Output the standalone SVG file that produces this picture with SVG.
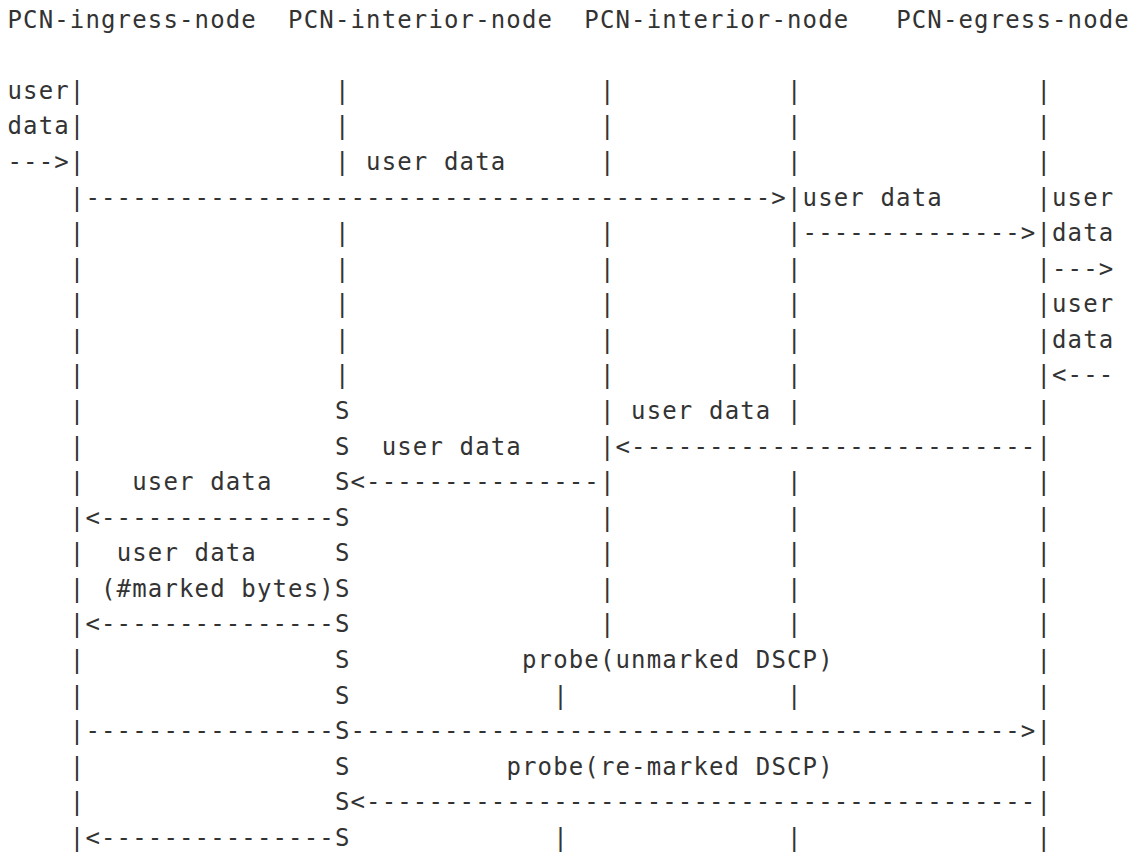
<svg xmlns="http://www.w3.org/2000/svg" width="1136" height="852" viewBox="0 0 1136 852">
<style>
.t{font-family:"DejaVu Sans Mono","Liberation Mono",monospace;font-size:24px;letter-spacing:1.14px;fill:#333;white-space:pre;}
</style>
<rect width="1136" height="852" fill="#fff"/>
<g id="node-ingress">
<text class="t" x="7.5" y="27.6">PCN-ingress-node</text>
<text class="t"><tspan x="69.86" y="98.76">|</tspan><tspan x="69.86" y="134.34">|</tspan><tspan x="69.86" y="169.92">|</tspan><tspan x="69.86" y="205.5">|</tspan><tspan x="69.86" y="241.08">|</tspan><tspan x="69.86" y="276.66">|</tspan><tspan x="69.86" y="312.24">|</tspan><tspan x="69.86" y="347.82">|</tspan><tspan x="69.86" y="383.4">|</tspan><tspan x="69.86" y="418.98">|</tspan><tspan x="69.86" y="454.56">|</tspan><tspan x="69.86" y="490.14">|</tspan><tspan x="69.86" y="525.72">|</tspan><tspan x="69.86" y="561.3">|</tspan><tspan x="69.86" y="596.88">|</tspan><tspan x="69.86" y="632.46">|</tspan><tspan x="69.86" y="668.04">|</tspan><tspan x="69.86" y="703.62">|</tspan><tspan x="69.86" y="739.2">|</tspan><tspan x="69.86" y="774.78">|</tspan><tspan x="69.86" y="810.36">|</tspan><tspan x="69.86" y="845.94">|</tspan></text>
</g>
<g id="node-interior-1">
<text class="t" x="288.12" y="27.6">PCN-interior-node</text>
<text class="t"><tspan x="334.89" y="98.76">|</tspan><tspan x="334.89" y="134.34">|</tspan><tspan x="334.89" y="169.92">|</tspan><tspan x="334.89" y="241.08">|</tspan><tspan x="334.89" y="276.66">|</tspan><tspan x="334.89" y="312.24">|</tspan><tspan x="334.89" y="347.82">|</tspan><tspan x="334.89" y="383.4">|</tspan><tspan x="334.89" y="418.98">S</tspan><tspan x="334.89" y="454.56">S</tspan><tspan x="334.89" y="490.14">S</tspan><tspan x="334.89" y="525.72">S</tspan><tspan x="334.89" y="561.3">S</tspan><tspan x="334.89" y="596.88">S</tspan><tspan x="334.89" y="632.46">S</tspan><tspan x="334.89" y="668.04">S</tspan><tspan x="334.89" y="703.62">S</tspan><tspan x="334.89" y="739.2">S</tspan><tspan x="334.89" y="774.78">S</tspan><tspan x="334.89" y="810.36">S</tspan><tspan x="334.89" y="845.94">S</tspan></text>
</g>
<g id="lifeline-middle">
<text class="t"><tspan x="599.92" y="98.76">|</tspan><tspan x="599.92" y="134.34">|</tspan><tspan x="599.92" y="169.92">|</tspan><tspan x="599.92" y="241.08">|</tspan><tspan x="599.92" y="276.66">|</tspan><tspan x="599.92" y="312.24">|</tspan><tspan x="599.92" y="347.82">|</tspan><tspan x="599.92" y="383.4">|</tspan><tspan x="599.92" y="418.98">|</tspan><tspan x="599.92" y="454.56">|</tspan><tspan x="599.92" y="490.14">|</tspan><tspan x="599.92" y="525.72">|</tspan><tspan x="599.92" y="561.3">|</tspan><tspan x="599.92" y="596.88">|</tspan><tspan x="599.92" y="632.46">|</tspan><tspan x="553.15" y="703.62">|</tspan><tspan x="553.15" y="845.94">|</tspan></text>
</g>
<g id="node-interior-2">
<text class="t" x="584.33" y="27.6">PCN-interior-node</text>
<text class="t"><tspan x="787" y="98.76">|</tspan><tspan x="787" y="134.34">|</tspan><tspan x="787" y="169.92">|</tspan><tspan x="787" y="205.5">|</tspan><tspan x="787" y="241.08">|</tspan><tspan x="787" y="276.66">|</tspan><tspan x="787" y="312.24">|</tspan><tspan x="787" y="347.82">|</tspan><tspan x="787" y="383.4">|</tspan><tspan x="787" y="418.98">|</tspan><tspan x="787" y="490.14">|</tspan><tspan x="787" y="525.72">|</tspan><tspan x="787" y="561.3">|</tspan><tspan x="787" y="596.88">|</tspan><tspan x="787" y="632.46">|</tspan><tspan x="787" y="703.62">|</tspan><tspan x="787" y="845.94">|</tspan></text>
</g>
<g id="node-egress">
<text class="t" x="896.13" y="27.6">PCN-egress-node</text>
<text class="t"><tspan x="1036.44" y="98.76">|</tspan><tspan x="1036.44" y="134.34">|</tspan><tspan x="1036.44" y="169.92">|</tspan><tspan x="1036.44" y="205.5">|</tspan><tspan x="1036.44" y="241.08">|</tspan><tspan x="1036.44" y="276.66">|</tspan><tspan x="1036.44" y="312.24">|</tspan><tspan x="1036.44" y="347.82">|</tspan><tspan x="1036.44" y="383.4">|</tspan><tspan x="1036.44" y="418.98">|</tspan><tspan x="1036.44" y="454.56">|</tspan><tspan x="1036.44" y="490.14">|</tspan><tspan x="1036.44" y="525.72">|</tspan><tspan x="1036.44" y="561.3">|</tspan><tspan x="1036.44" y="596.88">|</tspan><tspan x="1036.44" y="632.46">|</tspan><tspan x="1036.44" y="668.04">|</tspan><tspan x="1036.44" y="703.62">|</tspan><tspan x="1036.44" y="739.2">|</tspan><tspan x="1036.44" y="774.78">|</tspan><tspan x="1036.44" y="810.36">|</tspan><tspan x="1036.44" y="845.94">|</tspan></text>
</g>
<g id="connectors">
<text class="t" x="7.5" y="169.92">---&gt;</text>
<text class="t" x="85.45" y="205.5">--------------------------------------------&gt;</text>
<text class="t" x="802.59" y="241.08">--------------&gt;</text>
<text class="t" x="1052.03" y="276.66">---&gt;</text>
<text class="t" x="1052.03" y="383.4">&lt;---</text>
<text class="t" x="615.51" y="454.56">&lt;--------------------------</text>
<text class="t" x="350.48" y="490.14">&lt;---------------</text>
<text class="t" x="85.45" y="525.72">&lt;---------------</text>
<text class="t" x="85.45" y="632.46">&lt;---------------</text>
<text class="t" x="85.45" y="739.2">----------------</text>
<text class="t" x="350.48" y="739.2">-------------------------------------------&gt;</text>
<text class="t" x="350.48" y="810.36">&lt;-------------------------------------------</text>
<text class="t" x="85.45" y="845.94">&lt;---------------</text>
</g>
<g id="labels">
<text class="t" x="7.5" y="98.76">user</text>
<text class="t" x="7.5" y="134.34">data</text>
<text class="t" x="366.07" y="169.92">user data</text>
<text class="t" x="802.59" y="205.5">user data</text>
<text class="t" x="1052.03" y="205.5">user</text>
<text class="t" x="1052.03" y="241.08">data</text>
<text class="t" x="1052.03" y="312.24">user</text>
<text class="t" x="1052.03" y="347.82">data</text>
<text class="t" x="631.1" y="418.98">user data</text>
<text class="t" x="381.66" y="454.56">user data</text>
<text class="t" x="132.22" y="490.14">user data</text>
<text class="t" x="116.63" y="561.3">user data</text>
<text class="t" x="101.04" y="596.88">(#marked bytes)</text>
<text class="t" x="521.97" y="668.04">probe(unmarked DSCP)</text>
<text class="t" x="506.38" y="774.78">probe(re-marked DSCP)</text>
</g>
</svg>
